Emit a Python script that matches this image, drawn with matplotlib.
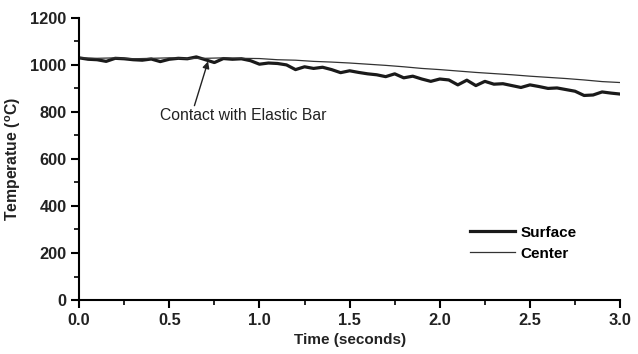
import matplotlib
matplotlib.use("Agg")
import matplotlib.pyplot as plt
from matplotlib.ticker import MultipleLocator

plt.rcParams['font.family'] = ['Liberation Sans', 'DejaVu Sans']
plt.rcParams['mathtext.fontset'] = 'custom'
plt.rcParams['mathtext.rm'] = 'Liberation Sans:bold'
plt.rcParams['mathtext.it'] = 'Liberation Sans:bold'
plt.rcParams['mathtext.bf'] = 'Liberation Sans:bold'

surface_time = [0.00, 0.05, 0.10, 0.15, 0.20, 0.25, 0.30, 0.35, 0.40, 0.45,
                0.50, 0.55, 0.60, 0.65, 0.70, 0.75, 0.80, 0.85, 0.90, 0.95,
                1.00, 1.05, 1.10, 1.15, 1.20, 1.25, 1.30, 1.35, 1.40, 1.45,
                1.50, 1.55, 1.60, 1.65, 1.70, 1.75, 1.80, 1.85, 1.90, 1.95,
                2.00, 2.05, 2.10, 2.15, 2.20, 2.25, 2.30, 2.35, 2.40, 2.45,
                2.50, 2.55, 2.60, 2.65, 2.70, 2.75, 2.80, 2.85, 2.90, 2.95, 3.00]
surface_temp = [1030, 1024, 1022, 1015, 1028, 1026, 1022, 1020, 1025, 1014,
                1024, 1028, 1026, 1034, 1022, 1010, 1027, 1024, 1026, 1018,
                1003, 1008, 1006, 1000, 980, 992, 985, 990, 980, 967,
                975, 968, 962, 958, 950, 962, 945, 952, 940, 930,
                940, 936, 915, 935, 912, 930, 918, 920, 912, 904,
                915, 908, 900, 902, 895, 888, 870, 872, 885, 880, 876]

center_time = [0.0, 0.1, 0.2, 0.3, 0.4, 0.5, 0.6, 0.7, 0.8, 0.9, 1.0,
               1.1, 1.2, 1.3, 1.4, 1.5, 1.6, 1.7, 1.8, 1.9, 2.0,
               2.1, 2.2, 2.3, 2.4, 2.5, 2.6, 2.7, 2.8, 2.9, 3.0]
center_temp = [1030, 1028, 1030, 1026, 1028, 1030, 1027, 1028, 1030, 1028, 1027,
               1022, 1020, 1015, 1012, 1008, 1003, 998, 992, 985, 980,
               974, 968, 963, 958, 952, 947, 942, 936, 929, 925]

x_ticks = [0.0, 0.5, 1.0, 1.5, 2.0, 2.5, 3.0]
y_ticks = [0, 200, 400, 600, 800, 1000, 1200]

fig = plt.figure(figsize=(6.38, 3.54), dpi=100)
ax = fig.add_axes([0.124, 0.1525, 0.848, 0.797])

ax.plot(surface_time, surface_temp, color='#1a1a1a', lw=2.3, label='Surface')
ax.plot(center_time, center_temp, color='#333333', lw=0.9, label='Center')

ax.set_xlim(0, 3.0)
ax.set_ylim(0, 1200)
ax.set_xticks(x_ticks)
ax.set_xticklabels([f"{v:.1f}" for v in x_ticks])
ax.set_yticks(y_ticks)
ax.xaxis.set_minor_locator(MultipleLocator(0.25))
ax.yaxis.set_minor_locator(MultipleLocator(100))
ax.tick_params(which='major', direction='out', length=6, width=1.5, labelsize=11.8, pad=3)
ax.tick_params(which='minor', direction='out', length=3.5, width=1.2)
for lab in ax.get_xticklabels() + ax.get_yticklabels():
    lab.set_fontweight('bold')
    lab.set_color('#222222')

for s in ['top', 'right']:
    ax.spines[s].set_visible(False)
for s in ['left', 'bottom']:
    ax.spines[s].set_linewidth(1.5)

ax.set_xlabel('Time (seconds)', fontsize=11, fontweight='bold', color='#222222', labelpad=4)
ax.set_ylabel(r'Temperatue ($^{\mathrm{o}}$C)', fontsize=11.3, fontweight='bold', color='#222222', labelpad=5)

ax.annotate('Contact with Elastic Bar', xy=(0.715, 1015), xytext=(0.45, 783),
            fontsize=11.3, color='#222222', ha='left', va='center',
            arrowprops=dict(arrowstyle='-|>', color='#222222', lw=1, mutation_scale=10,
                            shrinkA=0, shrinkB=0, relpos=(0.2, 1.0)))

leg = ax.legend(loc='upper left', bbox_to_anchor=(0.712, 0.285), frameon=False,
                handlelength=2.9, handletextpad=0.4, labelspacing=0.45,
                borderaxespad=0, prop={'weight': 'bold', 'size': 11})

fig.savefig('out.png', dpi=100)
